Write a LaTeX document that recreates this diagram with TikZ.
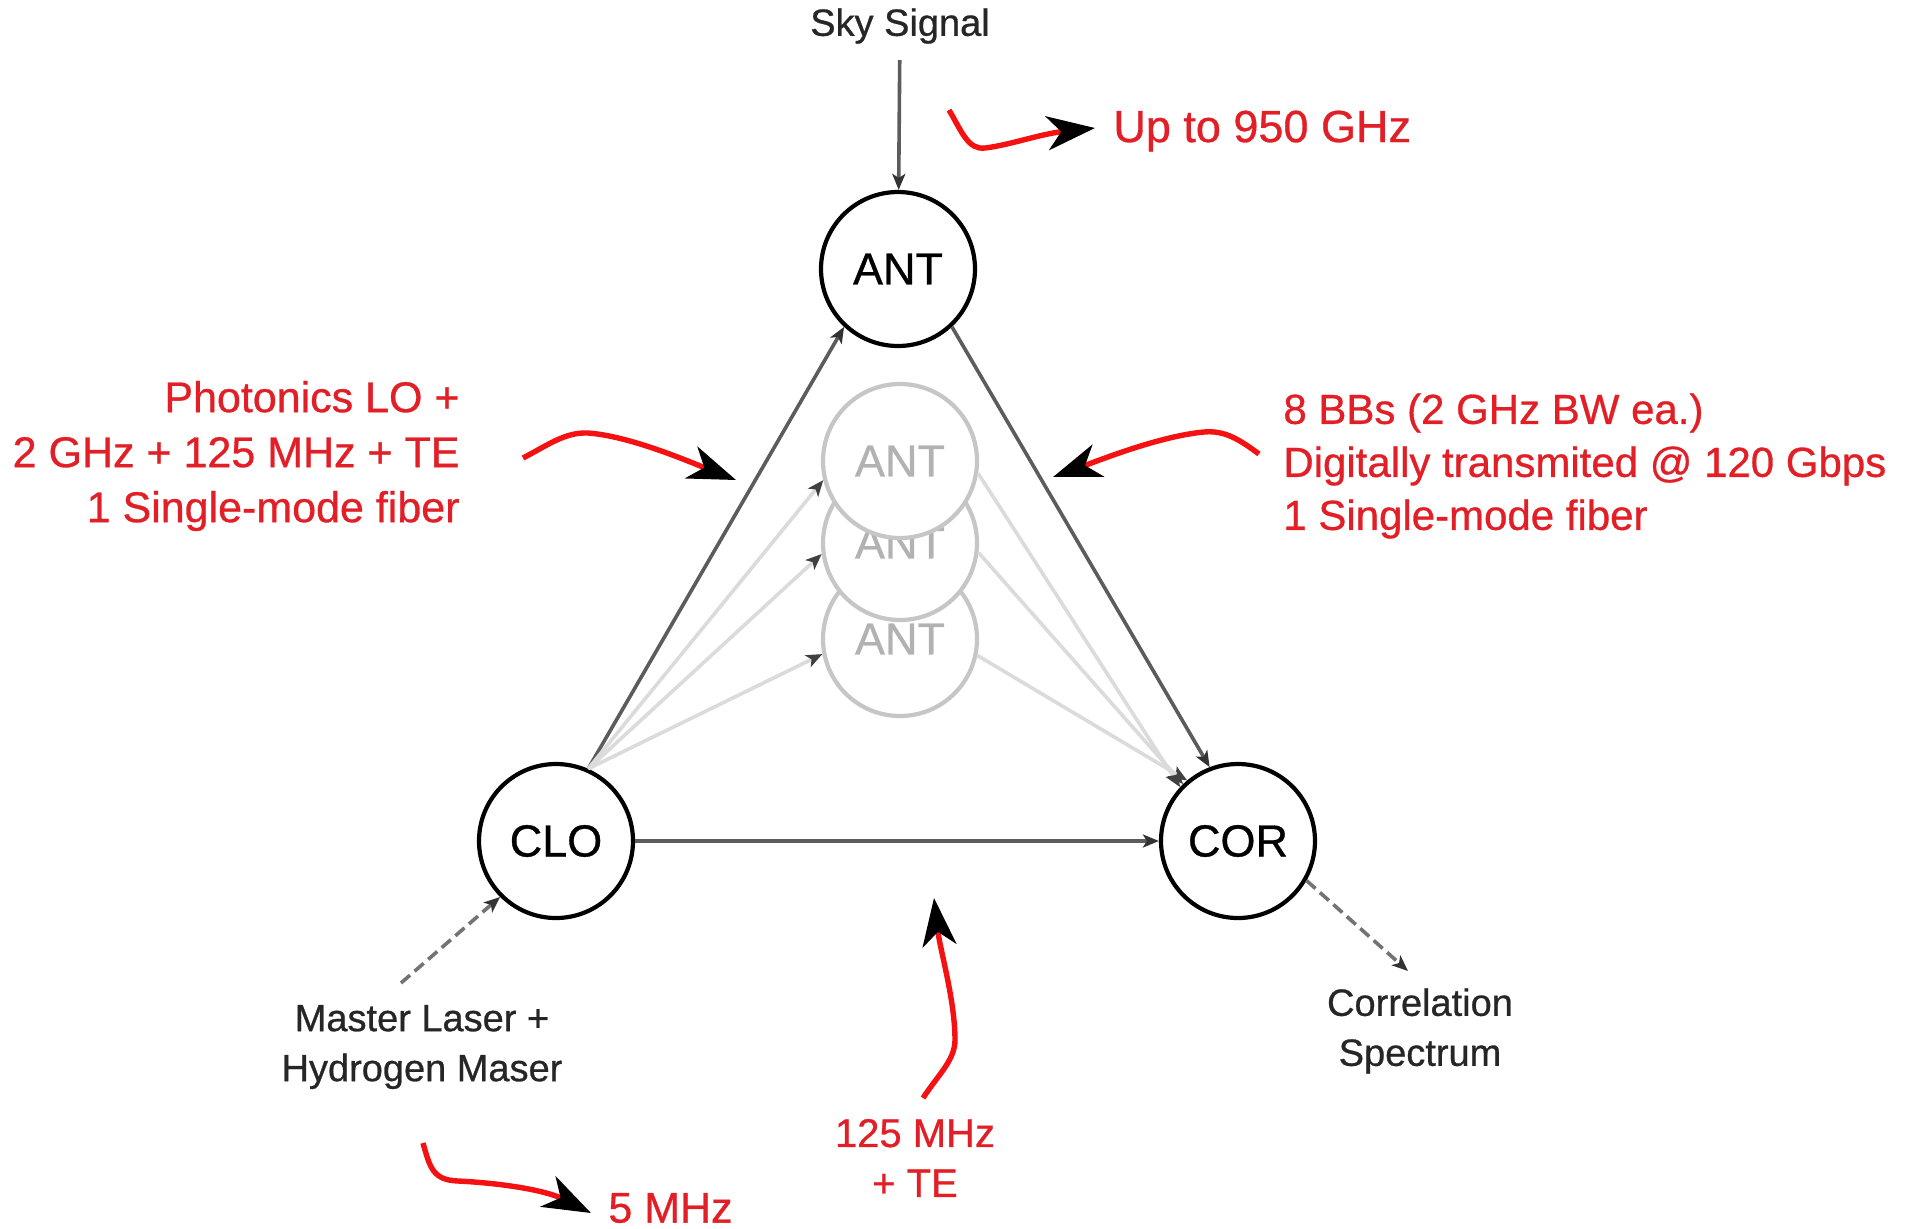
\documentclass[tikz,border=0pt]{standalone}
\usepackage{fontspec}
\setmainfont{Liberation Sans}[FakeBold=0.7]
\usetikzlibrary{arrows.meta,positioning}
\definecolor{annot}{HTML}{E21E26}
\definecolor{annotline}{HTML}{F51111}
\definecolor{wire}{HTML}{5C5C5C}
\definecolor{faded}{HTML}{C6C6C6}
\definecolor{ink}{HTML}{262626}

\begin{document}
\begin{tikzpicture}[
  x=0.5pt,y=-0.5pt,
  stn/.style={circle,draw=black,line width=2.1pt,fill=white,minimum size=77pt,inner sep=0pt,font=\fontsize{22.5}{27}\selectfont},
  ghost/.style={stn,draw=faded,text=black!30},
  link/.style={draw=wire,line width=1.8pt,-{Stealth[length=8pt,width=6.5pt,inset=2pt,black!80]}},
  faint/.style={draw=black!14,line width=1.8pt,-{Stealth[length=8pt,width=6.5pt,inset=2pt,black!75]}},
  feed/.style={draw=black!55,line width=1.8pt,dash pattern=on 6pt off 3pt,-{Stealth[length=8pt,width=6.5pt,inset=2pt,black!80]}},
  note/.style={draw=annotline,line width=2.7pt,-{Stealth[length=24pt,width=17pt,inset=7pt,black]}},
  ntxt/.style={text=annot,inner sep=0pt,font=\fontsize{21.5}{27.5}\selectfont},
  lbl/.style={text=ink,inner sep=0pt,align=center,font=\fontsize{19}{25}\selectfont},
]
\path[use as bounding box,fill=white] (0,0) rectangle (1907,1228);

% --- stations
\node[stn] (ant) at (898,269) {ANT};
\node[stn] (clo) at (556,841) {CLO};
\node[stn] (cor) at (1238,841) {COR};

% --- further antennas
\node[ghost] (ant3) at (900,639) {ANT};
\node[ghost] (ant2) at (900,543) {ANT};
\node[ghost] (ant1) at (900,461) {ANT};

% --- inputs / outputs
\node[lbl] (sky) at (900,26) {Sky Signal};
\node[lbl] (laser) at (422,1047) {Master Laser +\\Hydrogen Maser};
\node[lbl] (spec) at (1420,1031) {Correlation\\Spectrum};
\coordinate (laserout) at (401,983);
\coordinate (specin) at (1408,971);

\draw[link,shorten <=8pt] (sky) -- (ant);
\draw[link] (clo.66) -- (ant.227);
\draw[link] (ant.-47) -- (cor.111);
\draw[link] (clo) -- (cor);
\foreach \g/\a in {ant1/194,ant2/188,ant3/191}
  \draw[faint] (clo.66) -- (\g.\a);
\foreach \g/\a/\b in {ant1/-9/137,ant2/-7/134,ant3/-12/130}
  \draw[faint] (\g.\a) -- (cor.\b);
\draw[feed] (laserout) -- (clo.225);
\draw[feed] (cor.-30) -- (specin);

% --- annotations
\node[ntxt,anchor=west,font=\fontsize{22.5}{27}\selectfont] (ghz) at (1113,131) {Up to 950 GHz};
\node[ntxt,anchor=east,align=right] (photo) at (460,456) {Photonics LO +\\2 GHz + 125 MHz + TE\\1 Single-mode fiber};
\node[ntxt,anchor=west,align=left,font=\fontsize{21}{26.5}\selectfont] (bbs) at (1283,466) {8 BBs (2 GHz BW ea.)\\Digitally transmited @ 120 Gbps\\1 Single-mode fiber};
\node[ntxt,align=center,font=\fontsize{20}{25}\selectfont] (ref) at (915,1158) {125 MHz\\+ TE};
\node[ntxt,anchor=west] (five) at (608,1208) {5 MHz};

\coordinate (ghzfrom) at (949,110);
\coordinate (photofrom) at (523,458);
\coordinate (photoat) at (736,480);
\coordinate (bbsfrom) at (1259,454);
\coordinate (bbsat) at (1053,477);
\coordinate (reffrom) at (923,1098);
\coordinate (refat) at (934,898);
\coordinate (fivefrom) at (423,1143);

\draw[note] (ghzfrom) .. controls (962,132) and (968,150) .. (985,148) .. controls (1010,145) and (1040,134) .. ([xshift=-9pt,yshift=1.5pt]ghz.west);
\draw[note] (photofrom) .. controls (548,445) and (565,432) .. (588,433) .. controls (630,436) and (690,462) .. (photoat);
\draw[note] (bbsfrom) .. controls (1240,440) and (1225,430) .. (1204,432) .. controls (1160,436) and (1100,460) .. (bbsat);
\draw[note] (reffrom) .. controls (938,1075) and (955,1060) .. (955,1040) .. controls (955,1000) and (940,950) .. (refat);
\draw[note] (fivefrom) .. controls (430,1168) and (433,1180) .. (458,1181) .. controls (500,1183) and (545,1190) .. ([xshift=-8.5pt,yshift=-2.5pt]five.west);
\end{tikzpicture}
\end{document}
